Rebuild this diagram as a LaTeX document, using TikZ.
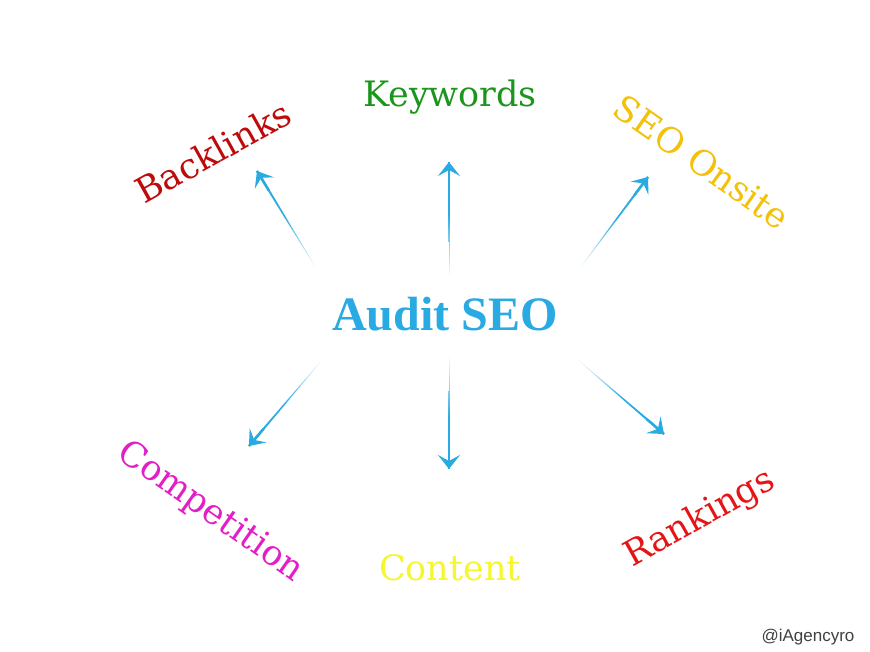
\documentclass[tikz,border=0pt]{standalone}
\usepackage{fontspec}
\setmainfont{DejaVu Serif}
\newfontfamily\titlefont{Liberation Serif}
\newfontfamily\tagfont{Liberation Sans}
\usetikzlibrary{arrows.meta,calc}
\definecolor{arrowblue}{HTML}{29ABE2}
\definecolor{titleblue}{HTML}{2AAAE2}
\definecolor{kwgreen}{HTML}{1C951C}
\definecolor{bldred}{HTML}{BE0A0A}
\definecolor{onsitegold}{HTML}{F4C10A}
\definecolor{compmag}{HTML}{E41EC6}
\definecolor{contyellow}{HTML}{F6F62C}
\definecolor{rankred}{HTML}{E61414}
\newcommand\fadedarrow[2]{%
  \foreach \k in {0,...,29}{%
    \pgfmathsetmacro\pa{\k/30}%
    \pgfmathsetmacro\pb{(\k+1.05)/30}%
    \pgfmathtruncatemacro\pc{min(100,(\k+1)*6)}%
    \pgfmathsetmacro\lw{0.4+2.1*\pa}%
    \draw[line width=\lw pt, arrowblue!\pc!white] ($(#1)!\pa!(#2)$) -- ($(#1)!\pb!(#2)$);
  }%
  \draw[arrowblue, line width=2.5pt, -{Stealth[length=14pt,width=22pt,inset=6pt]}] ($(#1)!0.8!(#2)$) -- (#2);
}
\begin{document}
\begin{tikzpicture}[x=1pt,y=-1pt,
  lbl/.style={font=\fontsize{35}{40}\selectfont, inner sep=0pt}]
\useasboundingbox (0,0) rectangle (870,652);
\fill[white] (0,0) rectangle (870,652);

\node[font=\titlefont\bfseries\fontsize{48}{52}\selectfont, text=titleblue, inner sep=0pt] (audit) at (445,314) {Audit SEO};

\node[lbl, text=kwgreen] (kw) at (450,97) {Keywords};
\node[lbl, text=bldred, rotate=29] (bl) at (213,152) {Backlinks};
\node[lbl, text=onsitegold, rotate=-35] (onsite) at (702,162) {SEO Onsite};
\node[lbl, text=compmag, rotate=-35] (comp) at (210,512) {Competition};
\node[lbl, text=contyellow] (cont) at (450,568) {Content};
\node[lbl, text=rankred, rotate=29] (rank) at (700,519) {Rankings};
\node[font=\tagfont\fontsize{17}{20}\selectfont, text=black!75, inner sep=0pt] (tag) at (808,637) {@iAgencyro};

\coordinate (blS) at (316,268); \coordinate (blE) at (257,171);
\coordinate (kwS) at (449,276); \coordinate (kwE) at (449,162);
\coordinate (onS) at (580,268); \coordinate (onE) at (648,177);
\coordinate (coS) at (322,360); \coordinate (coE) at (249,446);
\coordinate (ctS) at (449,357); \coordinate (ctE) at (449,469);
\coordinate (rkS) at (578,360); \coordinate (rkE) at (664,434);

\fadedarrow{blS}{blE}
\fadedarrow{kwS}{kwE}
\fadedarrow{onS}{onE}
\fadedarrow{coS}{coE}
\fadedarrow{ctS}{ctE}
\fadedarrow{rkS}{rkE}
\end{tikzpicture}
\end{document}
